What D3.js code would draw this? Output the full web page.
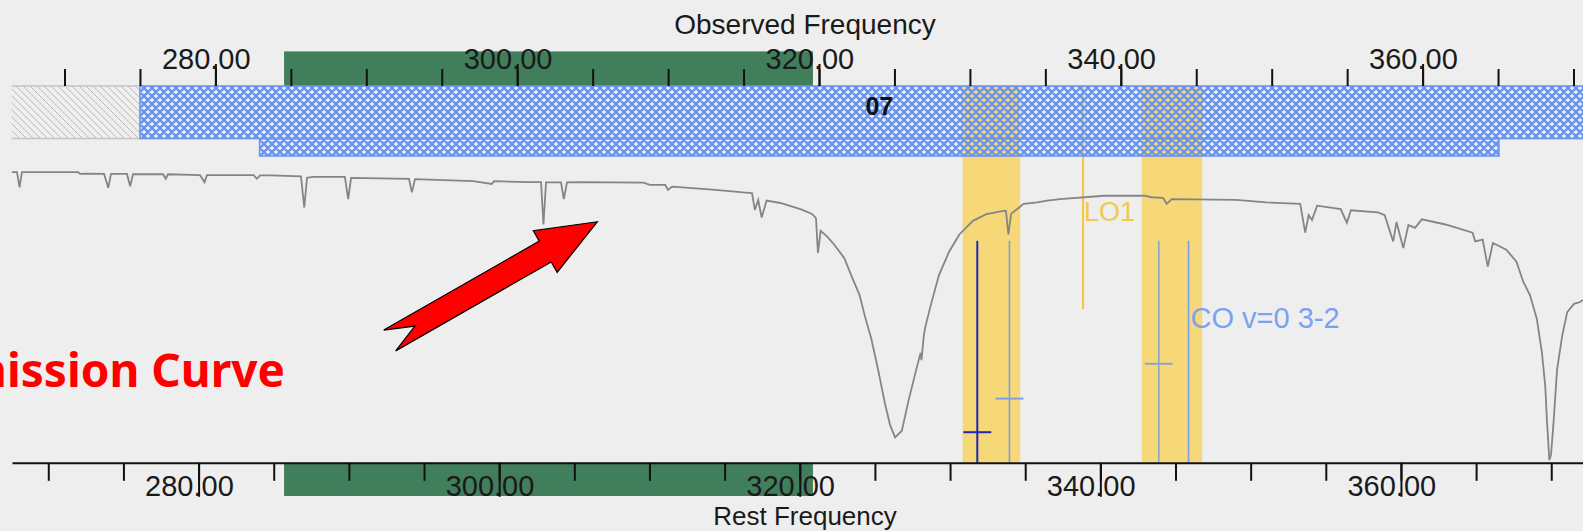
<!DOCTYPE html>
<html>
<head>
<meta charset="utf-8">
<script src="https://cdn.jsdelivr.net/npm/d3@7"></script>
<style>
  body { margin: 0; background: #eeeeee; }
  svg { display: block; }
</style>
</head>
<body>
<div id="container"></div>
<script>
/**
 * DATA (frequencies in GHz)
 * */
const redshift = 0.004;                 // rest = observed * (1 + z)
const bandName = "07";
const bandLabelFreq = 324.0;
const bandRange = [275, 373];
const blockedRange = [266.5, 275];
const tuningRange = [282.93, 365.06];
const selectedRange = [284.55, 319.6];
const sidebands = [[329.52, 333.33], [341.40, 345.39]];
const lo1Freq = 337.5;
const lo1Top = 0.508;

const minorTicks = d3.range(270, 371, 5);
const majorTicks = [280, 300, 320, 340, 360];

// atmospheric transmission
const atmFreq = [
  266.51, 266.85, 267.02, 267.18, 270.90, 271.03, 271.56, 272.62, 272.90, 273.08,
  274.14, 274.35, 274.54, 276.53, 276.71, 276.86, 278.98, 279.28, 279.44, 282.53,
  282.75, 282.96, 283.65, 285.67, 285.89, 286.07, 286.47, 288.58, 288.80, 288.99,
  292.83, 293.02, 293.23, 297.09, 298.32, 298.46, 300.68, 301.58, 301.74, 301.91,
  302.90, 303.09, 303.30, 304.21, 308.36, 308.80, 309.81, 309.99, 310.26, 312.73,
  314.07, 314.96, 315.56, 315.75, 315.97, 316.20, 316.53, 317.43, 318.77, 319.54,
  319.80, 319.93, 320.11, 320.56, 321.01, 321.68, 322.13, 322.69, 323.03, 323.47,
  323.92, 324.37, 324.71, 325.04, 325.49, 325.94, 326.39, 326.73, 326.79, 326.95,
  327.06, 327.40, 327.95, 328.63, 329.30, 330.20, 331.09, 332.21, 332.39, 332.55,
  332.73, 333.56, 334.46, 335.12, 335.98, 338.89, 341.58, 342.03, 342.80, 343.04,
  343.38, 347.63, 349.65, 351.89, 352.22, 352.45, 352.67, 353.01, 354.57, 354.98,
  355.25, 357.04, 357.49, 358.05, 358.27, 358.72, 359.06, 359.50, 359.95, 361.52,
  363.31, 363.49, 363.98, 364.32, 364.66, 365.55, 366.22, 366.67, 367.12, 367.57,
  367.91, 368.13, 368.24, 368.40, 368.51, 368.69, 368.91, 369.25, 369.58, 370.03,
  370.44, 370.63
];
const atmTrans = [
  0.960, 0.960, 0.910, 0.960, 0.960, 0.954, 0.955, 0.954, 0.908, 0.954,
  0.954, 0.913, 0.953, 0.953, 0.938, 0.953, 0.950, 0.927, 0.950, 0.950,
  0.938, 0.949, 0.949, 0.946, 0.843, 0.941, 0.944, 0.944, 0.871, 0.941,
  0.938, 0.893, 0.937, 0.930, 0.921, 0.930, 0.927, 0.927, 0.787, 0.926,
  0.926, 0.871, 0.926, 0.927, 0.925, 0.918, 0.918, 0.901, 0.912, 0.903,
  0.897, 0.893, 0.891, 0.835, 0.868, 0.810, 0.866, 0.858, 0.838, 0.822,
  0.808, 0.693, 0.766, 0.746, 0.720, 0.676, 0.620, 0.554, 0.486, 0.409,
  0.307, 0.196, 0.125, 0.084, 0.106, 0.207, 0.297, 0.363, 0.339, 0.422,
  0.452, 0.519, 0.620, 0.698, 0.754, 0.799, 0.821, 0.832, 0.832, 0.754,
  0.822, 0.855, 0.860, 0.866, 0.871, 0.882, 0.882, 0.877, 0.875, 0.855,
  0.871, 0.868, 0.860, 0.855, 0.760, 0.818, 0.802, 0.849, 0.838, 0.793,
  0.834, 0.827, 0.818, 0.731, 0.795, 0.709, 0.785, 0.776, 0.804, 0.787,
  0.760, 0.731, 0.737, 0.648, 0.726, 0.704, 0.664, 0.598, 0.553, 0.475,
  0.363, 0.252, 0.140, 0.009, 0.026, 0.141, 0.307, 0.419, 0.497, 0.525,
  0.531, 0.538
];

// spectral line markers (observed frequency)
const lineFreq = [330.49, 332.62, 342.52, 344.49];
const lineTop = [0.733, 0.733, 0.733, 0.733];
const lineMark = [0.101, 0.212, 0.327, null];
const lineLabel = "CO v=0 3-2";
const lineLabelTrans = 0.445;

// annotation arrow (tail, tip in data space)
const arrowTail = [291.55, 0.404];
const arrowTip = [305.31, 0.796];

/**
 * LAYOUT
 * */
const W = 1583, H = 531;
const bandTop = 86, bandMid = 138.6, bandBot = 156, axisY = 462.8;
const lineColors = ["#2424b8", "#7e9fe2", "#8fa3cc", "#779ef0"];
const tickFont = "'Liberation Sans', Arial, sans-serif";

const x = d3.scaleLinear().domain([266.52, 370.63]).range([12, W]);
const xRest = d3.scaleLinear().domain(x.domain().map(f => f * (1 + redshift))).range(x.range());
const y = d3.scaleLinear().domain([0, 1]).range([axisY, 160]);

const svg = d3.select("#container").append("svg")
  .attr("width", W).attr("height", H)
  .style("background-color", "#eeeeee");

const defs = svg.append("defs");
const hatch = defs.append("pattern").attr("id", "hatch")
  .attr("patternUnits", "userSpaceOnUse").attr("width", 7).attr("height", 7);
hatch.append("path").attr("d", "M0,0L7,7M-1,6L1,8M6,-1L8,1")
  .attr("stroke", "#bcbcbc").attr("stroke-width", 1);
const cross = defs.append("pattern").attr("id", "cross")
  .attr("patternUnits", "userSpaceOnUse").attr("width", 8).attr("height", 8);
cross.append("path").attr("d", "M0,0L8,8M8,0L0,8M-1,7L1,9M7,-1L9,1M-1,1L1,-1M7,9L9,7")
  .attr("stroke", "#6a94ec").attr("stroke-width", 2.4);

// green selected range, top and bottom
[[51.4, bandTop], [axisY, 496]].forEach(([y0, y1]) => {
  svg.append("rect")
    .attr("x", x(selectedRange[0])).attr("width", x(selectedRange[1]) - x(selectedRange[0]))
    .attr("y", y0).attr("height", y1 - y0)
    .attr("fill", "#417f5c");
});

// band backgrounds
svg.append("rect")
  .attr("x", x(blockedRange[0])).attr("width", x(blockedRange[1]) - x(blockedRange[0]))
  .attr("y", bandTop).attr("height", bandMid - bandTop)
  .attr("fill", "url(#hatch)");
svg.append("path")
  .attr("d", `M${x(blockedRange[0])},${bandTop}H${x(blockedRange[1])}M${x(blockedRange[0])},${bandMid}H${x(blockedRange[1])}`)
  .attr("stroke", "#c4c4c4").attr("stroke-width", 1.5);

const bandRows = [
  { r: bandRange, y0: bandTop, y1: bandMid },
  { r: tuningRange, y0: bandMid, y1: bandBot }
];
svg.selectAll(".bandbg").data(bandRows).join("rect")
  .attr("class", "bandbg")
  .attr("x", d => x(d.r[0])).attr("width", d => x(d.r[1]) - x(d.r[0]))
  .attr("y", d => d.y0).attr("height", d => d.y1 - d.y0)
  .attr("fill", "#e6eefd");

// sidebands and LO
svg.selectAll(".sb").data(sidebands).join("rect")
  .attr("class", "sb")
  .attr("x", d => x(d[0])).attr("width", d => x(d[1]) - x(d[0]))
  .attr("y", bandTop).attr("height", axisY - bandTop)
  .attr("fill", "#f6d878");
svg.append("line")
  .attr("x1", x(lo1Freq)).attr("x2", x(lo1Freq))
  .attr("y1", bandTop).attr("y2", y(lo1Top))
  .attr("stroke", "#f4c53e").attr("stroke-width", 2);
svg.append("text")
  .attr("x", x(lo1Freq) + 1).attr("y", 221)
  .attr("font-family", tickFont).attr("font-size", 27)
  .attr("fill", "#f3c84d").text("LO1");

// band pattern overlay
svg.selectAll(".bandfg").data(bandRows).join("rect")
  .attr("class", "bandfg")
  .attr("x", d => x(d.r[0])).attr("width", d => x(d.r[1]) - x(d.r[0]))
  .attr("y", d => d.y0).attr("height", d => d.y1 - d.y0)
  .attr("fill", "url(#cross)")
  .attr("stroke", "#6a96ee").attr("stroke-width", 1.6);
svg.append("text")
  .attr("x", x(bandLabelFreq)).attr("y", 115)
  .attr("text-anchor", "middle")
  .attr("font-family", tickFont).attr("font-weight", "bold").attr("font-size", 25)
  .attr("fill", "#111").text(bandName);

// transmission curve
const atm = atmFreq.map((f, i) => [f, atmTrans[i]]);
svg.append("path")
  .datum(atm)
  .attr("d", d3.line().x(d => x(d[0])).y(d => y(d[1])))
  .attr("fill", "none")
  .attr("stroke", "#858585").attr("stroke-width", 1.8);

// spectral lines
const lines = lineFreq.map((f, i) => ({ f, top: lineTop[i], mark: lineMark[i], c: lineColors[i] }));
svg.selectAll(".sl").data(lines).join("line")
  .attr("class", "sl")
  .attr("x1", d => x(d.f)).attr("x2", d => x(d.f))
  .attr("y1", d => y(d.top)).attr("y2", axisY)
  .attr("stroke", d => d.c).attr("stroke-width", (d, i) => i === 0 ? 2 : 1.6);
svg.selectAll(".slm").data(lines.filter(d => d.mark !== null)).join("line")
  .attr("class", "slm")
  .attr("x1", d => x(d.f) - 14).attr("x2", d => x(d.f) + 14)
  .attr("y1", d => y(d.mark)).attr("y2", d => y(d.mark))
  .attr("stroke", d => d.c).attr("stroke-width", 2);
svg.append("text")
  .attr("x", x(lineFreq[3]) + 2).attr("y", y(lineLabelTrans))
  .attr("font-family", tickFont).attr("font-size", 29)
  .attr("fill", "#7ca2ef").text(lineLabel);

// axes
function styleAxis(g) {
  g.selectAll(".tick line").attr("stroke", "#111").attr("stroke-width", 2);
  g.selectAll("text").attr("font-family", tickFont).attr("font-size", 29)
    .attr("fill", "#1a1a1a").attr("text-anchor", "start").attr("dx", -54);
}
const topMinor = svg.append("g").attr("transform", `translate(0,${bandTop})`)
  .call(d3.axisTop(x).tickValues(minorTicks).tickSize(17).tickFormat(""));
topMinor.select(".domain").remove();
styleAxis(topMinor);
const topMajor = svg.append("g").attr("transform", `translate(0,${bandTop})`)
  .call(d3.axisTop(x).tickValues(majorTicks).tickSize(22).tickPadding(-5).tickFormat(d3.format(".2f")));
topMajor.select(".domain").remove();
styleAxis(topMajor);

const botMinor = svg.append("g").attr("transform", `translate(0,${axisY})`)
  .call(d3.axisBottom(xRest).tickValues(minorTicks).tickSize(18).tickSizeOuter(0).tickFormat(""));
botMinor.select(".domain").attr("stroke", "#111").attr("stroke-width", 2);
styleAxis(botMinor);
const botMajor = svg.append("g").attr("transform", `translate(0,${axisY})`)
  .call(d3.axisBottom(xRest).tickValues(majorTicks).tickSize(34).tickFormat(d3.format(".2f")));
botMajor.select(".domain").remove();
styleAxis(botMajor);
botMajor.selectAll("text").attr("y", 33.2).attr("dy", 0);

svg.append("text")
  .attr("x", 805).attr("y", 34).attr("text-anchor", "middle")
  .attr("font-family", tickFont).attr("font-size", 28)
  .attr("fill", "#1a1a1a").text("Observed Frequency");
svg.append("text")
  .attr("x", 805).attr("y", 525).attr("text-anchor", "middle")
  .attr("font-family", tickFont).attr("font-size", 26)
  .attr("fill", "#1a1a1a").text("Rest Frequency");

// annotation
const ax0 = x(arrowTail[0]), ay0 = y(arrowTail[1]);
const ax1 = x(arrowTip[0]), ay1 = y(arrowTip[1]);
const L = Math.hypot(ax1 - ax0, ay1 - ay0);
const ang = Math.atan2(ay1 - ay0, ax1 - ax0) * 180 / Math.PI;
const shape = [[L, 0], [L - 60, -24], [L - 60, -12], [0, -12], [29, 0], [0, 12], [L - 60, 12], [L - 60, 24]];
svg.append("polygon")
  .attr("transform", `translate(${ax0},${ay0}) rotate(${ang})`)
  .attr("points", shape.map(p => p.join(",")).join(" "))
  .attr("fill", "#ff0000").attr("stroke", "#000").attr("stroke-width", 1.2);
svg.append("text")
  .attr("x", 285).attr("y", 387).attr("text-anchor", "end")
  .attr("font-family", "'Comic Sans MS', 'Noto Sans', sans-serif")
  .attr("font-weight", "bold").attr("font-size", 46)
  .attr("fill", "#ff0000").text("Transmission Curve");
</script>
</body>
</html>
